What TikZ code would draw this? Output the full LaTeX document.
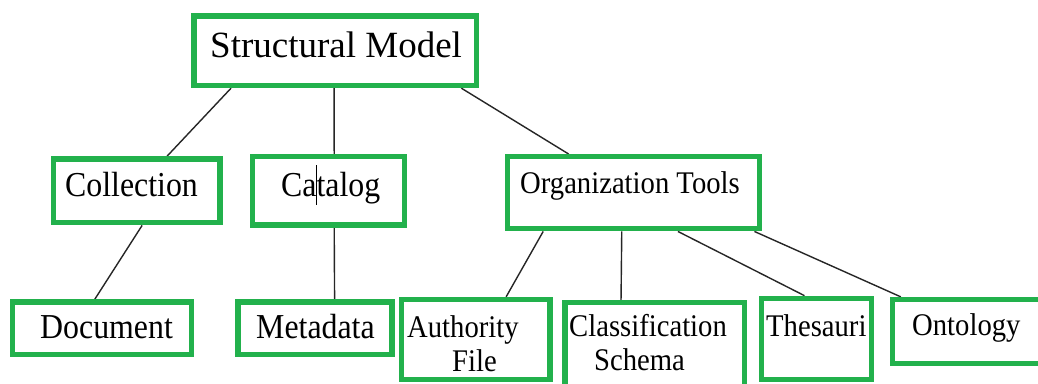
\documentclass[tikz,border=0pt]{standalone}
\usepackage{fontspec}
\setmainfont{Liberation Serif}
\newfontfamily\narrowserif[FakeStretch=0.91]{Liberation Serif}
\usetikzlibrary{calc}
\definecolor{boxgreen}{RGB}{34,177,76}
\begin{document}
\begin{tikzpicture}[x=1pt,y=-1pt,
  box/.style={draw=boxgreen,line width=5.3pt,inner sep=0pt,rectangle},
  lbl/.style={anchor=base west,inner sep=0pt,text=black},
  conn/.style={draw=black!85,line width=1.4pt},
  big/.style={font=\fontsize{37}{40}\selectfont},
  mid/.style={font=\narrowserif\fontsize{35}{38}\selectfont},
  sml/.style={font=\narrowserif\fontsize{31.5}{34}\selectfont}]
\useasboundingbox[fill=white] (0,0) rectangle (1038,383);
% boxes
\node[box,minimum width=282.5pt,minimum height=69.5pt] (sm) at (335.25,50.75) {};
\node[box,minimum width=166.7pt,minimum height=63.7pt] (col) at (136.65,190.85) {};
\node[box,minimum width=152pt,minimum height=68.5pt] (cat) at (328.3,190.75) {};
\node[box,minimum width=178.8pt,minimum height=52.5pt] (doc) at (101.9,328.25) {};
\node[box,minimum width=154pt,minimum height=52.5pt] (meta) at (315,328.25) {};
\node[box,minimum width=252.3pt,minimum height=72.1pt] (org) at (633.35,192.75) {};
\node[box,minimum width=148.8pt,minimum height=80.2pt] (auth) at (475.6,339.6) {};
\node[box,minimum width=179.2pt,minimum height=87.2pt] (cls) at (654.6,346.4) {};
\node[box,minimum width=109.6pt,minimum height=80.9pt] (thes) at (816.5,338.75) {};
\node[box,minimum width=152.3pt,minimum height=63.8pt] (ont) at (968.85,331.4) {};
% connectors
\draw[conn] ($(sm.south west)!0.138!(sm.south east)$) -- ($(col.north west)!0.676!(col.north east)$);
\draw[conn] ($(sm.south west)!0.496!(sm.south east)$) -- ($(cat.north west)!0.5375!(cat.north east)$);
\draw[conn] ($(sm.south west)!0.938!(sm.south east)$) -- ($(org.north west)!0.249!(org.north east)$);
\draw[conn] ($(col.south west)!0.532!(col.south east)$) -- ($(doc.north west)!0.461!(doc.north east)$);
\draw[conn] ($(cat.south west)!0.5375!(cat.south east)$) -- ($(meta.north west)!0.623!(meta.north east)$);
\draw[conn] ($(org.south west)!0.150!(org.south east)$) -- ($(auth.north west)!0.698!(auth.north east)$);
\draw[conn] ($(org.south west)!0.455!(org.south east)$) -- ($(cls.north west)!0.318!(cls.north east)$);
\draw[conn] ($(org.south west)!0.673!(org.south east)$) -- ($(thes.north west)!0.395!(thes.north east)$);
\draw[conn] ($(org.south west)!0.970!(org.south east)$) -- ($(ont.north west)!0.068!(ont.north east)$);
% redraw boxes on top
\foreach \n in {sm,col,cat,doc,meta,org,auth,cls,thes,ont}{
  \draw[draw=boxgreen,line width=5.3pt] (\n.south west) ++(2.65,-2.65) rectangle ($(\n.north east)+(-2.65,2.65)$);
}
% labels
\node[lbl,big] (tsm) at (210,57) {Structural Model};
\node[lbl,mid] (tcol) at (65,196) {Collection};
\node[lbl,mid] (tcat) at (281,196) {Catalog};
\node[lbl,mid] (tdoc) at (40,338) {Document};
\node[lbl,mid] (tmeta) at (256,338) {Metadata};
\node[lbl,sml] (torg) at (520,193) {Organization Tools};
\node[lbl,sml] (tautha) at (407,337) {Authority};
\node[lbl,sml] (tauthb) at (452,371) {File};
\node[lbl,sml] (tclsa) at (569,336) {Classification};
\node[lbl,sml] (tclsb) at (594,370) {Schema};
\node[lbl,sml] (tthes) at (766,336) {Thesauri};
\node[lbl,sml] (tont) at (912,335) {Ontology};
% text caret inside Catalog
\draw[line width=0.8pt] (316,165) -- (316,205);
\end{tikzpicture}
\end{document}
